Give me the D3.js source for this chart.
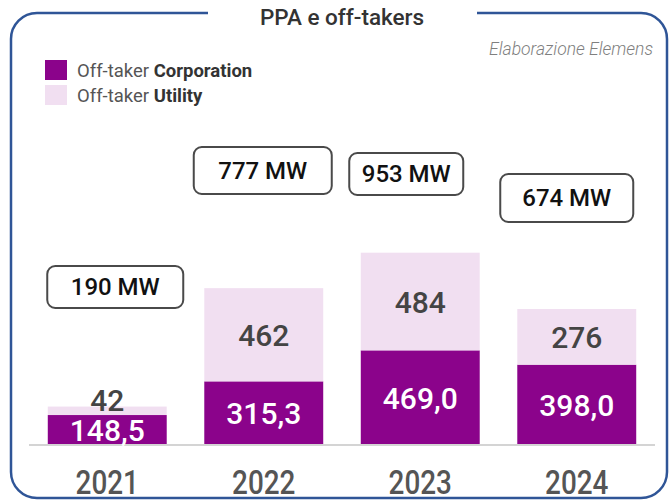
<!DOCTYPE html>
<html>
<head>
<meta charset="utf-8">
<script src="https://cdn.jsdelivr.net/npm/d3@7"></script>
<style>
  body { margin: 0; background: #fff; }
  svg { display: block; }
</style>
</head>
<body>
<svg id="chart" width="669" height="501"></svg>
<script>

// data
var years = ['2021', '2022', '2023', '2024'];
var corporation = [148.5, 315.3, 469.0, 398.0];
var utility = [42, 462, 484, 276];
var totals = [190, 777, 953, 674];

var seriesNames = ['Corporation', 'Utility'];
var colors = ['#8b038b', '#f1dff1'];

// where the MW callouts sit (they are hand placed in the original)
var boxLayout = [
    {dx: 8, top: 266, w: 136, h: 42},
    {dx: -1, top: 147, w: 138, h: 47},
    {dx: -14, top: 153, w: 114, h: 42},
    {dx: -10, top: 174, w: 133, h: 48}
];

window.addEventListener('load', drawChart);

function fmt(v) {
    return v.toFixed(1).replace('.', ',');
}

function drawChart() {

    var svg = d3.select('#chart');

    var x = d3.scaleBand()
        .domain(years)
        .range([29, 655])
        .paddingInner(0.24)
        .paddingOuter(0.12);

    var y = d3.scaleLinear()
        .domain([0, 1000])
        .range([445, 243.2]);

    // frame with a gap for the title
    var frame = svg.append('g');
    frame.append('rect')
        .attr('x', 11).attr('y', 13)
        .attr('width', 656).attr('height', 485)
        .attr('rx', 26).attr('ry', 26)
        .attr('fill', 'none')
        .attr('stroke', '#2f5597')
        .attr('stroke-width', 2.5);
    frame.append('rect')
        .attr('x', 208).attr('y', 5)
        .attr('width', 269).attr('height', 16)
        .attr('fill', '#fff');

    svg.append('text')
        .attr('x', 342).attr('y', 25)
        .attr('text-anchor', 'middle')
        .style('font-family', 'Roboto, sans-serif')
        .style('font-size', '22.5px')
        .style('font-weight', 500)
        .attr('fill', '#333')
        .text('PPA e off-takers');

    svg.append('text')
        .attr('x', 653).attr('y', 55)
        .attr('text-anchor', 'end')
        .style('font-family', 'Roboto, sans-serif')
        .style('font-size', '17.5px')
        .style('font-style', 'italic')
        .style('font-weight', 300)
        .attr('fill', '#7f7f7f')
        .text('Elaborazione Elemens');

    // legend
    var legend = svg.append('g').attr('class', 'legend');
    var leg = legend.selectAll('g')
        .data(seriesNames).enter().append('g')
        .attr('transform', (d, i) => 'translate(45,' + (60 + i * 25) + ')');
    leg.append('rect')
        .attr('width', 22).attr('height', 20)
        .attr('fill', (d, i) => colors[i]);
    var lt = leg.append('text')
        .attr('x', 32).attr('y', 17)
        .style('font-family', 'Roboto, sans-serif')
        .style('font-size', '18.5px');
    lt.append('tspan').attr('fill', '#555').text('Off-taker ');
    lt.append('tspan').attr('fill', '#333').style('font-weight', 700).text(d => d);

    // stacked bars
    var rows = years.map(function (yr, i) {
        return {year: yr, corp: corporation[i], util: utility[i], total: totals[i], i: i};
    });

    var barsG = svg.append('g').attr('class', 'bars');

    barsG.selectAll('rect.corp')
        .data(rows).enter().append('rect')
        .attr('class', 'corp')
        .attr('x', d => x(d.year))
        .attr('width', x.bandwidth())
        .attr('y', d => y(d.corp))
        .attr('height', d => y(0) - y(d.corp))
        .attr('fill', colors[0]);

    barsG.selectAll('rect.util')
        .data(rows).enter().append('rect')
        .attr('class', 'util')
        .attr('x', d => x(d.year))
        .attr('width', x.bandwidth())
        .attr('y', d => y(d.corp + d.util))
        .attr('height', d => y(d.corp) - y(d.corp + d.util))
        .attr('fill', colors[1]);

    // baseline
    svg.append('line')
        .attr('x1', 29).attr('x2', 655)
        .attr('y1', 445).attr('y2', 445)
        .attr('stroke', '#d4d4d4')
        .attr('stroke-width', 2);

    // value labels
    var labels = svg.append('g')
        .style('font-family', 'Roboto, sans-serif')
        .style('font-size', '30px')
        .style('font-weight', 500)
        .attr('text-anchor', 'middle');

    labels.selectAll('text.corp')
        .data(rows).enter().append('text')
        .attr('class', 'corp')
        .attr('x', d => x(d.year) + x.bandwidth() / 2)
        .attr('y', d => (y(0) + y(d.corp)) / 2 + 11)
        .attr('fill', '#fff')
        .text(d => fmt(d.corp));

    labels.selectAll('text.util')
        .data(rows).enter().append('text')
        .attr('class', 'util')
        .attr('x', d => x(d.year) + x.bandwidth() / 2)
        .attr('y', function (d) {
            var top = y(d.corp + d.util), bot = y(d.corp);
            if (bot - top < 30) return top + 4;
            return (top + bot) / 2 + 11;
        })
        .attr('fill', '#444')
        .text(d => d.util);

    // year labels (condensed look)
    svg.append('g').selectAll('text')
        .data(years).enter().append('text')
        .attr('transform', d => 'translate(' + (x(d) + x.bandwidth() / 2) + ',494) scale(0.82,1)')
        .attr('text-anchor', 'middle')
        .style('font-family', 'Roboto, sans-serif')
        .style('font-size', '34px')
        .style('font-weight', 500)
        .attr('fill', '#555')
        .text(d => d);

    // MW callouts
    var boxes = svg.append('g').selectAll('g')
        .data(rows).enter().append('g')
        .attr('transform', function (d) {
            var b = boxLayout[d.i];
            var cx = x(d.year) + x.bandwidth() / 2 + b.dx;
            return 'translate(' + (cx - b.w / 2) + ',' + b.top + ')';
        });
    boxes.append('rect')
        .attr('width', d => boxLayout[d.i].w)
        .attr('height', d => boxLayout[d.i].h)
        .attr('rx', 8).attr('ry', 8)
        .attr('fill', '#fff')
        .attr('stroke', '#4a4a4a')
        .attr('stroke-width', 2);
    boxes.append('text')
        .attr('x', d => boxLayout[d.i].w / 2)
        .attr('y', d => boxLayout[d.i].h / 2 + 8)
        .attr('text-anchor', 'middle')
        .style('font-family', 'Roboto, sans-serif')
        .style('font-size', '24px')
        .style('font-weight', 500)
        .attr('fill', '#111')
        .text(d => d.total + ' MW');
}
</script>
</body>
</html>
